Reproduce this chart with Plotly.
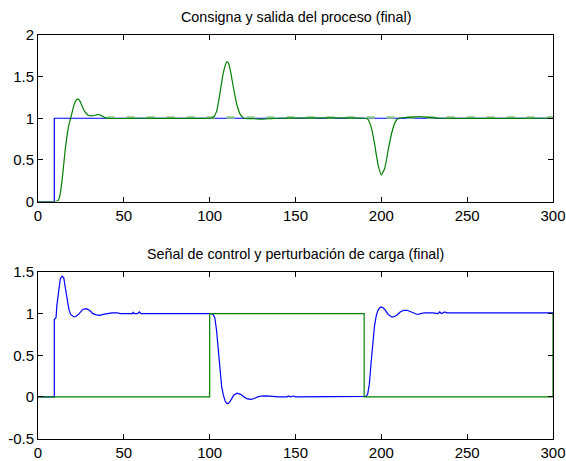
import plotly.graph_objects as go

# ---- Top subplot data: setpoint and process output ----
t_ref = [0, 9.5, 9.5, 300]
ref = [0, 0, 1, 1]

t_out = [0, 10, 11, 12, 13, 14, 15, 16, 17, 18, 19, 20, 21, 22, 23, 24, 25, 26, 27, 28, 29, 30,
         32, 34, 35, 36, 38, 40, 60, 100, 102, 104, 106, 108, 110, 111, 112, 114, 116, 118, 120,
         125, 130, 135, 140, 190, 192, 194, 196, 198, 200, 202, 204, 206, 208, 210, 215, 222,
         228, 235, 300]
out = [0, 0, 0.005, 0.02, 0.1, 0.25, 0.45, 0.65, 0.8, 0.92, 1.0, 1.08, 1.16, 1.21, 1.23, 1.22,
       1.18, 1.13, 1.09, 1.06, 1.04, 1.03, 1.03, 1.04, 1.045, 1.04, 1.02, 1.0, 1.0, 1.0, 1.01,
       1.08, 1.3, 1.55, 1.68, 1.66, 1.58, 1.35, 1.15, 1.04, 1.0, 0.995, 0.99, 0.995, 1.0, 1.0,
       0.99, 0.9, 0.7, 0.45, 0.32, 0.4, 0.62, 0.82, 0.95, 1.0, 1.01, 1.02, 1.01, 1.0, 1.0]

t_shade = [40, 300]
shade = [1.008, 1.008]

# ---- Bottom subplot data: control signal and load disturbance ----
t_u = [0, 9.5, 9.5, 10.5, 11, 12, 13, 14, 15, 16, 17, 18, 19, 20, 21, 22, 24, 26, 27, 28, 30,
       32, 34, 36, 38, 40, 43, 46, 48, 55, 55.5, 56, 58, 59, 60, 100, 101, 102, 103, 104, 105,
       106, 107, 108, 109, 110, 111, 112, 114, 116, 118, 120, 122, 124, 126, 128, 130, 133,
       136, 140, 145, 146, 147, 149, 150, 190, 191, 192, 193, 194, 195, 196, 197, 198, 199,
       200, 201, 202, 204, 206, 207, 209, 211, 213, 215, 217, 219, 221, 223, 225, 230, 233,
       234, 235, 237, 238, 300]
u = [0, 0, 0.93, 0.95, 1.1, 1.3, 1.42, 1.45, 1.43, 1.3, 1.15, 1.05, 0.99, 0.97, 0.96, 0.965,
     1.0, 1.05, 1.06, 1.06, 1.04, 1.0, 0.985, 0.98, 0.99, 1.0, 1.01, 1.01, 1.0, 1.0, 1.02, 1.0,
     1.0, 1.02, 1.0, 1.0, 1.0, 0.99, 0.95, 0.8, 0.55, 0.3, 0.12, 0.02, -0.05, -0.08, -0.075,
     -0.05, 0.02, 0.045, 0.03, 0.0, -0.025, -0.03, -0.02, 0.0, 0.01, 0.012, 0.005, 0.0, 0.0,
     0.01, 0.0, 0.01, 0.0, 0.0, 0.005, 0.03, 0.15, 0.4, 0.65, 0.85, 0.97, 1.04, 1.07, 1.08,
     1.07, 1.05, 0.99, 0.96, 0.96, 0.98, 1.02, 1.04, 1.04, 1.02, 1.0, 0.99, 1.0, 1.01, 1.01,
     1.0, 1.02, 1.0, 1.02, 1.01, 1.01]

t_d = [0, 100, 100, 190, 190, 300, 300]
d = [0, 0, 1, 1, 0, 0, 1]

x_ticks = [0, 50, 100, 150, 200, 250, 300]
y_ticks_top = [0, 0.5, 1, 1.5, 2]
y_ticks_bot = [-0.5, 0, 0.5, 1, 1.5]
title_top = "Consigna y salida del proceso (final)"
title_bot = "Señal de control y perturbación de carga (final)"

BLUE = "#0000ff"
GREEN = "#008000"
FONT = "Liberation Sans, Arial, sans-serif"

fig = go.Figure()
fig.add_trace(go.Scatter(x=t_ref, y=ref, mode="lines", line=dict(color=BLUE, width=1.2),
                         xaxis="x", yaxis="y", showlegend=False))
fig.add_trace(go.Scatter(x=t_shade, y=shade, mode="lines",
                         line=dict(color="#8cc68c", width=2.5, dash="8px,12px"),
                         xaxis="x", yaxis="y", showlegend=False))
fig.add_trace(go.Scatter(x=t_out, y=out, mode="lines",
                         line=dict(color=GREEN, width=1.2, shape="spline", smoothing=0.5),
                         xaxis="x", yaxis="y", showlegend=False))
fig.add_trace(go.Scatter(x=t_u, y=u, mode="lines", line=dict(color=BLUE, width=1.2),
                         xaxis="x2", yaxis="y2", showlegend=False))
fig.add_trace(go.Scatter(x=t_d, y=d, mode="lines", line=dict(color=GREEN, width=1.2),
                         xaxis="x2", yaxis="y2", showlegend=False))

ax_common = dict(showgrid=False, zeroline=False, showline=True, linecolor="black", linewidth=1,
                 mirror="ticks", ticks="inside", ticklen=5, tickcolor="black", automargin=False,
                 tickfont=dict(family=FONT, size=15, color="black"))

H = 461
xd = [38 / 566, 553 / 566]
fig.update_layout(
    width=566, height=H,
    margin=dict(l=0, r=0, t=0, b=0, autoexpand=False),
    paper_bgcolor="white", plot_bgcolor="white",
    xaxis=dict(domain=xd, range=[0, 300], tickvals=x_ticks, anchor="y", **ax_common),
    yaxis=dict(domain=[1 - 201.5 / H, 1 - 35 / H], range=[0, 2], tickvals=y_ticks_top,
               ticktext=[str(v) for v in y_ticks_top], anchor="x", **ax_common),
    xaxis2=dict(domain=xd, range=[0, 300], tickvals=x_ticks, anchor="y2", **ax_common),
    yaxis2=dict(domain=[1 - 438.5 / H, 1 - 272 / H], range=[-0.5, 1.5], tickvals=y_ticks_bot,
                ticktext=[str(v) for v in y_ticks_bot], anchor="x2", **ax_common),
    annotations=[
        dict(text=title_top, x=0.5, xref="x domain", y=1 - 17.5 / H, yref="paper",
             showarrow=False, font=dict(family=FONT, size=14.3, color="black"), yanchor="middle"),
        dict(text=title_bot, x=0.5, xref="x2 domain", y=1 - 254.5 / H, yref="paper",
             showarrow=False, font=dict(family=FONT, size=14.3, color="black"), yanchor="middle"),
    ],
)

fig.write_html("out.html", config={"displayModeBar": False},
               post_script="document.body.style.margin='0px';document.body.style.overflow='hidden';")
